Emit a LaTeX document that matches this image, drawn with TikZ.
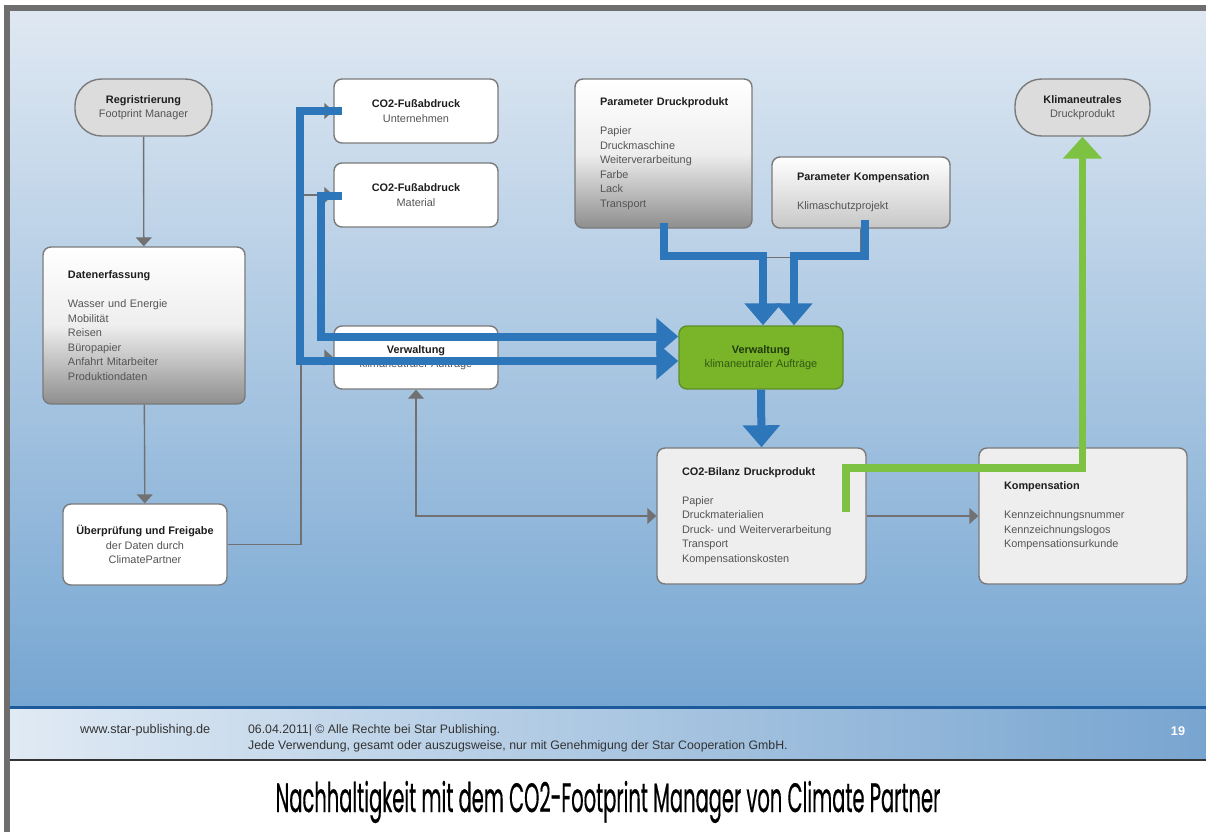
\documentclass[tikz,border=0pt]{standalone}
\usepackage{fontspec}
\setmainfont{Liberation Sans}
\newfontfamily\captionfont[FakeBold=0.6]{Poppins}
\usepackage{tikz}
\usetikzlibrary{arrows.meta,calc,positioning}

\definecolor{slidetop}{HTML}{DFE8F2}
\definecolor{slidebot}{HTML}{76A6D2}
\definecolor{framegray}{HTML}{6E6E6E}
\definecolor{boxline}{HTML}{7A7A7A}
\definecolor{pillgray}{HTML}{DCDCDC}
\definecolor{cardgray}{HTML}{EEEEEE}
\definecolor{shadegray}{HTML}{8E8E8E}
\definecolor{flowblue}{HTML}{2E76BA}
\definecolor{flowgreen}{HTML}{7DC242}
\definecolor{boxgreen}{HTML}{7AB529}
\definecolor{greenline}{HTML}{5E8E2A}
\definecolor{greendark}{HTML}{1F3A0C}
\definecolor{greenmid}{HTML}{2F5A12}
\definecolor{darktext}{HTML}{1E1E1E}
\definecolor{greytext}{HTML}{555555}
\definecolor{connector}{HTML}{717171}
\definecolor{footline}{HTML}{1C5A9C}
\definecolor{footleft}{HTML}{E0EAF4}
\definecolor{footright}{HTML}{78A5D0}
\definecolor{foottext}{HTML}{333333}

\newcommand\boxtitle[1]{\mbox{\textcolor{darktext}{\textbf{#1}}}}

\begin{document}
\begin{tikzpicture}[x=0.03cm,y=-0.03cm]
\tikzstyle{card}=[draw=boxline, line width=1.2pt, rounded corners=2.4mm, align=center, font=\fontsize{9.3}{12.4}\selectfont, text=greytext, inner sep=0pt]
\tikzstyle{pill}=[card, rounded corners=8mm, fill=pillgray]
\tikzstyle{listcard}=[card, align=left, inner xsep=0.75cm]
\tikzstyle{shadedcard}=[top color=white, bottom color=shadegray, middle color=white!85!shadegray]
\tikzstyle{flow}=[draw=connector, line width=1.2pt, -{Triangle[width=0.48cm,length=0.27cm]}]
\tikzstyle{bigflow}=[draw=flowblue, line width=0.24cm, -{Triangle[width=1.08cm,length=0.66cm]}]
\tikzstyle{greenflow}=[draw=flowgreen, line width=0.23cm, -{Triangle[width=1.14cm,length=0.66cm]}]

\fill[white] (0,0) rectangle (1206,832);
\fill[framegray] (4,5) rectangle (1206,11);
\fill[framegray] (4,5) rectangle (10,832);
\shade[top color=slidetop, bottom color=slidebot] (10,11) rectangle (1206,706);
\fill[footline] (10,706) rectangle (1206,709);
\shade[left color=footleft, right color=footright] (10,709) rectangle (1206,759);
\fill[black!80] (10,759) rectangle (1206,761);

\node[pill, minimum width=4.11cm, minimum height=1.71cm] (reg) at (143.5,107.5) {\boxtitle{Regristrierung}\\Footprint Manager};
\node[listcard, shadedcard, minimum width=6.06cm, minimum height=4.71cm, text width=4.56cm] (daten) at (144,325.5) {\boxtitle{Datenerfassung}\\[12.4pt]Wasser und Energie\\Mobilität\\Reisen\\Büropapier\\Anfahrt Mitarbeiter\\Produktiondaten};
\node[card, fill=white, minimum width=4.92cm, minimum height=2.43cm] (ueb) at (145,544.5) {\boxtitle{Überprüfung und Freigabe}\\der Daten durch\\ClimatePartner};

\node[card, fill=white, minimum width=4.92cm, minimum height=1.92cm] (unt) at (416,111) {\boxtitle{CO2-Fußabdruck}\\Unternehmen};
\node[card, fill=white, minimum width=4.92cm, minimum height=1.92cm] (mat) at (416,195) {\boxtitle{CO2-Fußabdruck}\\Material};
\node[card, fill=white, minimum width=4.92cm, minimum height=1.89cm] (wverw) at (416,357.5) {\boxtitle{Verwaltung}\\klimaneutraler Aufträge};

\node[listcard, shadedcard, minimum width=5.31cm, minimum height=4.47cm, text width=3.81cm] (pdp) at (663.5,153.5) {\boxtitle{Parameter Druckprodukt}\\[12.4pt]Papier\\Druckmaschine\\Weiterverarbeitung\\Farbe\\Lack\\Transport};
\node[listcard, top color=white, bottom color=black!22, minimum width=5.34cm, minimum height=2.13cm, text width=3.84cm] (pkomp) at (861,192.5) {\boxtitle{Parameter Kompensation}\\[12.4pt]Klimaschutzprojekt};
\node[pill, minimum width=4.05cm, minimum height=1.71cm] (klim) at (1082.5,107.5) {\boxtitle{Klimaneutrales}\\Druckprodukt};

\node[card, fill=boxgreen, draw=greenline, text=greenmid, minimum width=4.92cm, minimum height=1.89cm] (gverw) at (761,357.5) {\textcolor{greendark}{\textbf{Verwaltung}}\\klimaneutraler Aufträge};
\node[listcard, fill=cardgray, minimum width=6.27cm, minimum height=4.08cm, text width=4.77cm] (bil) at (761.5,516) {\boxtitle{CO2-Bilanz Druckprodukt}\\[12.4pt]Papier\\Druckmaterialien\\Druck- und Weiterverarbeitung\\Transport\\Kompensationskosten};
\node[listcard, fill=cardgray, minimum width=6.24cm, minimum height=4.08cm, text width=4.74cm] (komp) at (1083,516) {\boxtitle{Kompensation}\\[12.4pt]Kennzeichnungsnummer\\Kennzeichnungslogos\\Kompensationsurkunde};

\coordinate (trunk) at (301,0);
\draw[flow] (reg) -- (daten);
\draw[flow] (daten) -- (ueb);
\draw[flow] (ueb.east) -| (trunk |- unt.west) -- (unt.west);
\draw[flow] (trunk |- mat.west) -- (mat.west);
\draw[flow] (trunk |- wverw.west) -- (wverw.west);
\draw[flow, {Triangle[width=0.48cm,length=0.27cm]}-{Triangle[width=0.48cm,length=0.27cm]}] (bil.west) -| (wverw.south);
\draw[flow] (bil.east) -- (komp.west);
\draw[draw=connector, line width=1.2pt] (pdp.south) |- ($(pkomp.south)+(0,29)$) -- (pkomp.south);

\draw[bigflow] ($(unt.west)+(9,0)$) -- ++(-42,0) |- ($(gverw.west)+(0,3.5)$);
\draw[bigflow] ($(mat.west)+(9,1)$) -- ++(-21,0) |- ($(gverw.west)+(0,-21)$);
\draw[bigflow] ($(pdp.south)+(0,-6)$) -- ++(0,33) -| ($(gverw.north)+(2,0)$);
\draw[bigflow] ($(pkomp.south)+(4,-9)$) -- ++(0,36) -| ($(gverw.north)+(33,0)$);
\draw[bigflow] (gverw.south) -- (bil.north);
\draw[greenflow] ($(bil.east)+(-21,-4)$) -- ++(0,-44) -| (klim.south);

\node[anchor=west, font=\fontsize{10.8}{13}\selectfont, text=foottext] (web) at (76,730) {www.star-publishing.de};
\node[anchor=west, align=left, font=\fontsize{10.5}{13.6}\selectfont, text=foottext] (rechte) at (244,738) {06.04.2011| © Alle Rechte bei Star Publishing.\\Jede Verwendung, gesamt oder auszugsweise, nur mit Genehmigung der Star Cooperation GmbH.};
\node[font=\fontsize{10.8}{13}\selectfont\bfseries, text=white] (seite) at (1178,731) {19};
\node[anchor=base, font=\captionfont\fontsize{35}{40}\selectfont] (caption) at (608,812) {\scalebox{0.475}[1]{Nachhaltigkeit mit dem CO2-Footprint Manager von Climate Partner}};
\end{tikzpicture}
\end{document}
